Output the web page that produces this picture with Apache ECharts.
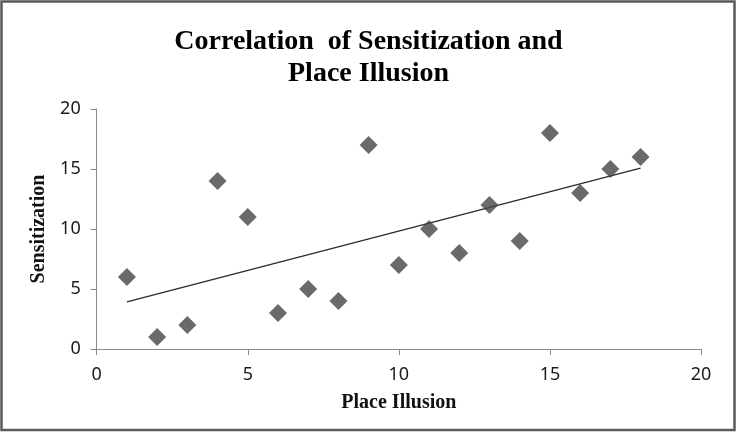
<!DOCTYPE html>
<html>
<head>
<meta charset="utf-8">
<script src="https://cdn.jsdelivr.net/npm/echarts@6/dist/echarts.min.js"></script>
<style>
html,body{margin:0;padding:0;background:#fff;}
#chart{width:737px;height:432px;}
</style>
</head>
<body>
<div id="chart"></div>
<script>
// Data
const placeIllusion = [1, 2, 3, 4, 5, 6, 7, 8, 9, 10, 11, 12, 13, 14, 15, 16, 17, 18];
const sensitization = [6, 1, 2, 14, 11, 3, 5, 4, 17, 7, 10, 8, 12, 9, 18, 13, 15, 16];
const xTicks = [0, 5, 10, 15, 20];
const yTicks = [0, 5, 10, 15, 20];
const titleText = 'Correlation  of Sensitization and\nPlace Illusion';
const xName = 'Place Illusion';
const yName = 'Sensitization';

// Linear trendline (least squares) computed from the data
const n = placeIllusion.length;
const mx = placeIllusion.reduce((a, b) => a + b, 0) / n;
const my = sensitization.reduce((a, b) => a + b, 0) / n;
let sxy = 0, sxx = 0;
for (let i = 0; i < n; i++) {
  sxy += (placeIllusion[i] - mx) * (sensitization[i] - my);
  sxx += (placeIllusion[i] - mx) * (placeIllusion[i] - mx);
}
const slope = sxy / sxx;
const intercept = my - slope * mx;
const xMinD = Math.min(...placeIllusion), xMaxD = Math.max(...placeIllusion);
const trend = [[xMinD, intercept + slope * xMinD], [xMaxD, intercept + slope * xMaxD]];

const points = placeIllusion.map((x, i) => [x, sensitization[i]]);

const chart = echarts.init(document.getElementById('chart'), null, {renderer: 'canvas'});
const axisColor = '#8c8c8c';
const labelFont = {fontFamily: '"Noto Sans", "DejaVu Sans", sans-serif', fontSize: 18, color: '#1a1a1a'};
chart.setOption({
  animation: false,
  backgroundColor: '#fff',
  title: {
    text: titleText,
    left: 'center',
    top: 21,
    textStyle: {fontFamily: '"Liberation Serif", "Times New Roman", serif', fontWeight: 'bold', fontSize: 28, lineHeight: 32, color: '#000'}
  },
  graphic: [{
    type: 'rect',
    shape: {x: 1.5, y: 1.5, width: 733, height: 428.5},
    style: {fill: 'none', stroke: '#5a5a5a', lineWidth: 2.5},
    silent: true
  }],
  grid: {left: 96.7, right: 36, top: 109, bottom: 83, containLabel: false},
  xAxis: {
    type: 'value',
    min: xTicks[0], max: xTicks[xTicks.length - 1], interval: xTicks[1] - xTicks[0],
    name: xName, nameLocation: 'middle', nameGap: 44,
    nameTextStyle: {fontFamily: '"Liberation Serif", "Times New Roman", serif', fontWeight: 'bold', fontSize: 20, color: '#111'},
    axisLine: {show: true, onZero: false, lineStyle: {color: axisColor, width: 1}},
    axisTick: {show: true, inside: false, length: 6, lineStyle: {color: axisColor}},
    axisLabel: Object.assign({margin: 17}, labelFont),
    splitLine: {show: false}
  },
  yAxis: {
    type: 'value',
    min: yTicks[0], max: yTicks[yTicks.length - 1], interval: yTicks[1] - yTicks[0],
    name: yName, nameLocation: 'middle', nameGap: 47, nameRotate: 90,
    nameTextStyle: {fontFamily: '"Liberation Serif", "Times New Roman", serif', fontWeight: 'bold', fontSize: 20, color: '#111'},
    axisLine: {show: true, onZero: false, lineStyle: {color: axisColor, width: 1}},
    axisTick: {show: true, inside: false, length: 6, lineStyle: {color: axisColor}},
    axisLabel: Object.assign({margin: 16}, labelFont),
    splitLine: {show: false}
  },
  series: [
    {
      type: 'line',
      data: trend,
      showSymbol: false,
      symbol: 'none',
      lineStyle: {color: '#2a2a2a', width: 1.3},
      z: 2
    },
    {
      type: 'scatter',
      data: points,
      symbol: 'diamond',
      symbolSize: [18, 18],
      itemStyle: {color: '#454545'},
      z: 3
    }
  ]
});
</script>
</body>
</html>
